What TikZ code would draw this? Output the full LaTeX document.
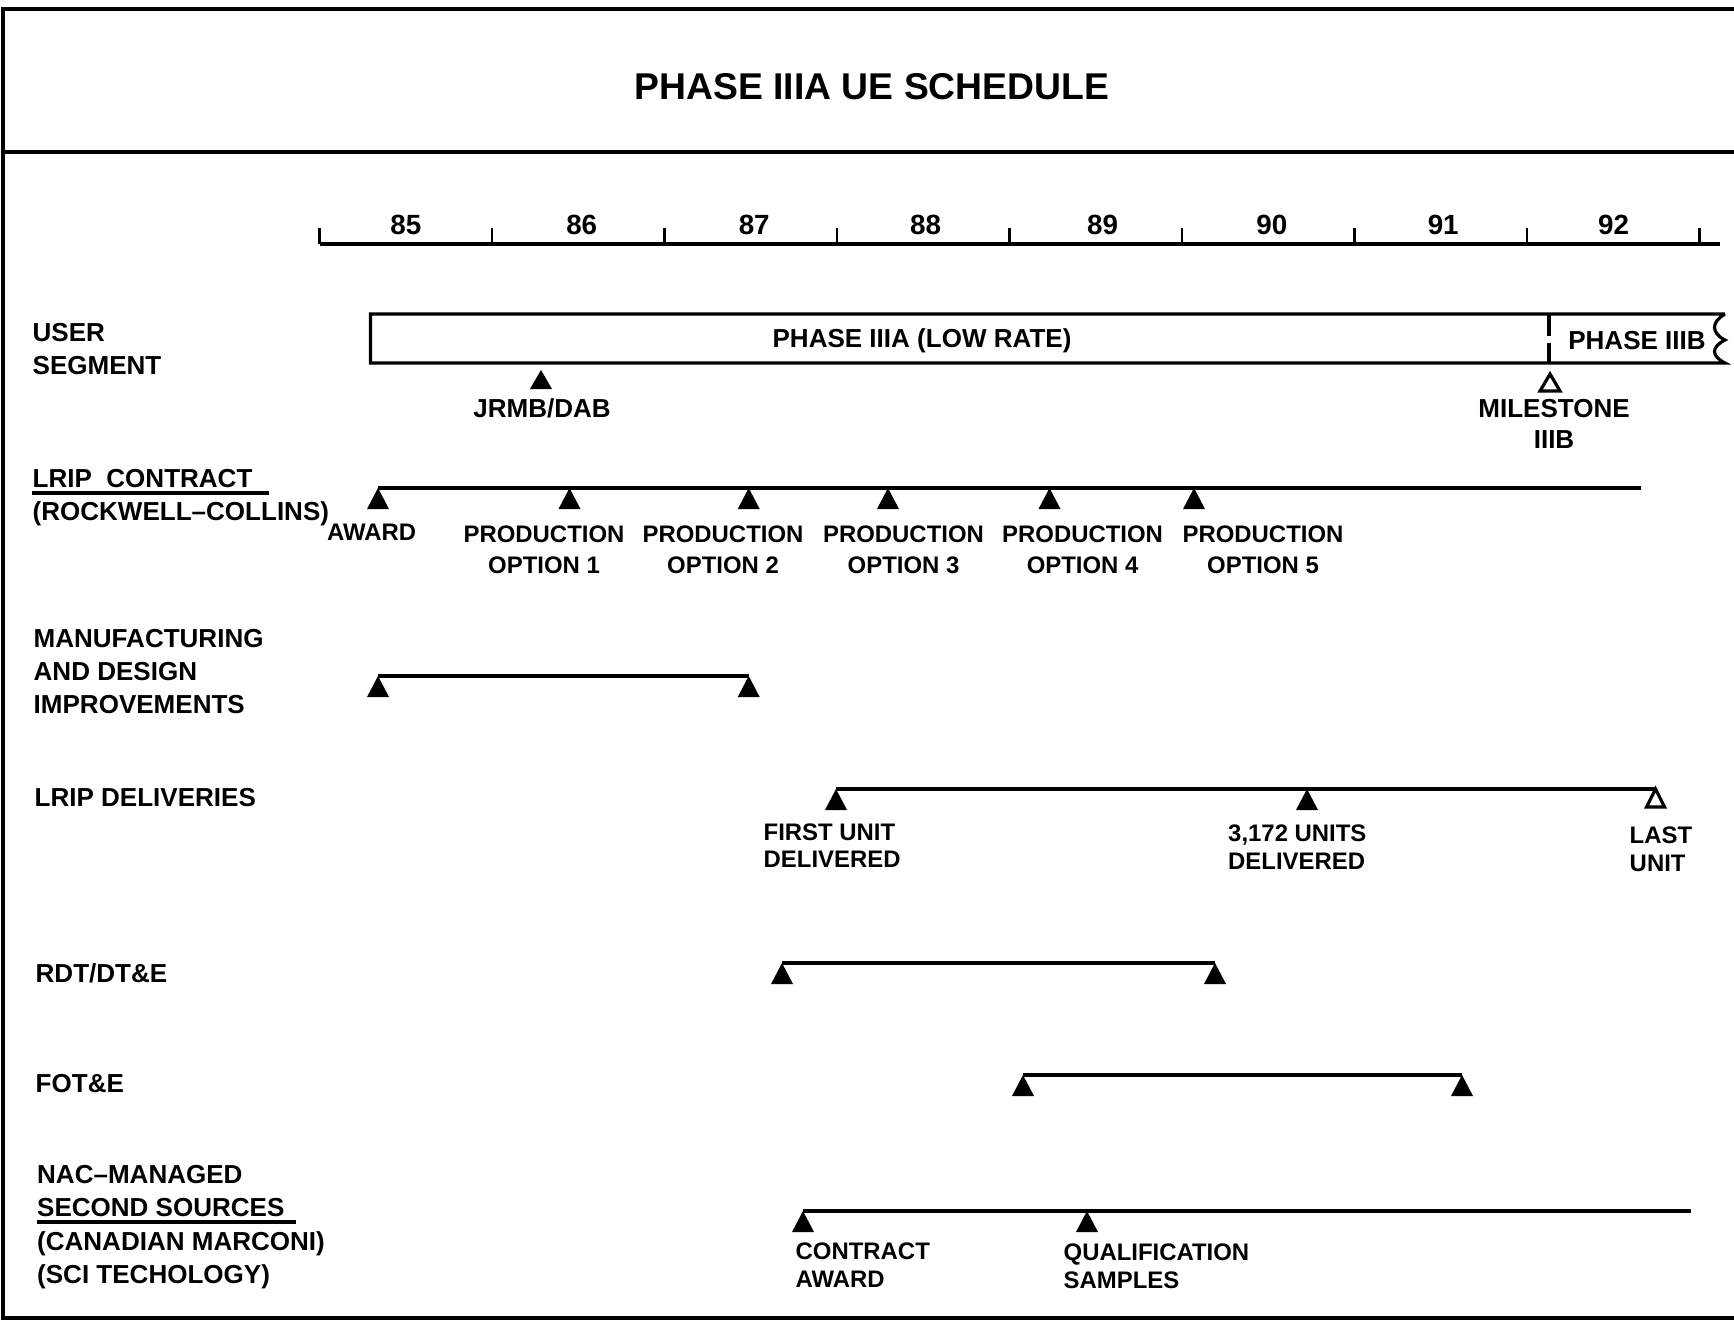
\documentclass[tikz,border=0pt]{standalone}
\usepackage{fontspec}
\setmainfont{Liberation Sans}

\begin{document}
\begin{tikzpicture}[x=0.01cm, y=-0.01cm,
    lbl/.style={font=\fontsize{7.4}{9.4}\selectfont\bfseries, inner sep=0pt, align=left, anchor=north west},
    evt/.style={font=\fontsize{6.8}{7.8}\selectfont\bfseries, inner sep=0pt, align=center, anchor=north},
    yr/.style={font=\fontsize{7.9}{9}\selectfont\bfseries, inner sep=0pt},
    bar/.style={line width=1pt},
    opentri/.style={draw, line width=0.9pt, fill=white}]
    \useasboundingbox (0,0) rectangle (1734,1324);
    \draw[line width=0.9pt] (1734,9) -- (3,9) -- (3,1318) -- (1734,1318);
    \draw[line width=1pt] (3,152) -- (1734,152);
    \node[font=\fontsize{10.6}{12}\selectfont\bfseries, inner sep=0pt] (title) at (872,87) {PHASE IIIA UE SCHEDULE};

    \draw[line width=1.1pt] (319.6,244) -- (1720,244);
    \foreach \i in {0,...,8} \draw[line width=0.7pt] ({319.6+172.5*\i},244) -- ++(0,-16);
    \foreach \yr/\x in {85/405.9,86/581.7,87/754.2,88/925.6,89/1102.6,90/1271.8,91/1443.2,92/1613.5}
        \node[yr] (y\yr) at (\x,224.5) {\yr};

    \node[lbl] (user) at (32,322.6) {USER\\SEGMENT};
    \node[lbl] (lrip) at (32,468.6) {LRIP\ \ CONTRACT\\(ROCKWELL--COLLINS)};
    \draw[line width=0.9pt] (32,493) -- (269,493);
    \node[lbl] (mfg) at (33,628.6) {MANUFACTURING\\AND DESIGN\\IMPROVEMENTS};
    \node[lbl] (deliv) at (34,788) {LRIP DELIVERIES};
    \node[lbl] (rdt) at (35,962.6) {RDT/DT\&E};
    \node[lbl] (fot) at (35,1073.3) {FOT\&E};
    \node[lbl] (nac) at (36.5,1165) {NAC--MANAGED\\SECOND SOURCES\\(CANADIAN MARCONI)\\(SCI TECHOLOGY)};
    \draw[line width=0.9pt] (36.5,1222) -- (296,1222);

    \draw[line width=0.9pt] (1725,314) -- (370.5,314) -- (370.5,363) -- (1725,363)
        .. controls (1711,356) and (1711,347) .. (1725,340)
        .. controls (1711,333) and (1711,322) .. (1725,314);
    \draw[line width=0.9pt] (1549,314) -- (1549,336) (1549,343) -- (1549,363);
    \node[lbl, anchor=center] (p3a) at (922,341) {PHASE IIIA (LOW RATE)};
    \node[lbl, anchor=center] (p3b) at (1637,341) {PHASE IIIB};

    \coordinate (jrmb) at (541,370);
    \fill (jrmb) -- ++(-11,19) -- ++(22,0) -- cycle;
    \node[lbl, anchor=north, align=center] (jrmbl) at (542,397.6) {JRMB/DAB};
    \coordinate (ms) at (1550,374);
    \draw[opentri] (ms) -- ++(-10,17) -- ++(20,0) -- cycle;
    \node[lbl, anchor=north, align=center, font=\fontsize{7.4}{8.8}\selectfont\bfseries] (msl) at (1554,398.6) {MILESTONE\\IIIB};

    \foreach \n/\x in {0/378,1/569.5,2/748.7,3/888,4/1049.5,5/1194}
        \coordinate (lc\n) at (\x,488);
    \coordinate (lcend) at (1641,488);
    \coordinate (md1) at (378,676);
    \coordinate (md2) at (748.7,676);
    \coordinate (dl1) at (836,789);
    \coordinate (dl2) at (1307,789);
    \coordinate (dl3) at (1655.5,789);
    \coordinate (rd1) at (782,963);
    \coordinate (rd2) at (1215,963);
    \coordinate (ft1) at (1023,1075);
    \coordinate (ft2) at (1462,1075);
    \coordinate (nc1) at (803,1211);
    \coordinate (nc2) at (1087,1211);
    \coordinate (ncend) at (1691,1211);

    \draw[bar] (lc0) -- (lcend);
    \draw[bar] (md1) -- (md2);
    \draw[bar] (dl1) -- (dl3);
    \draw[bar] (rd1) -- (rd2);
    \draw[bar] (ft1) -- (ft2);
    \draw[bar] (nc1) -- (ncend);
    \foreach \c in {lc0,lc1,lc2,lc3,lc4,lc5,md1,md2,dl1,dl2,rd1,rd2,ft1,ft2,nc1,nc2}
        \fill (\c) -- ++(-11,21) -- ++(22,0) -- cycle;
    \draw[opentri] (dl3) -- ++(-9,18) -- ++(18,0) -- cycle;

    \node[evt] (award) at (371.6,523.5) {AWARD};
    \foreach \n/\x in {1/544,2/723,3/903.5,4/1082.6,5/1263}
        \node[evt, font=\fontsize{6.8}{8.8}\selectfont\bfseries] (opt\n) at (\x,525.5) {PRODUCTION\\OPTION \n};
    \node[evt, anchor=north west, align=left] (first) at (763,823) {FIRST UNIT\\DELIVERED};
    \node[evt, anchor=north west, align=left] (units) at (1227.5,824.5) {3,172 UNITS\\DELIVERED};
    \node[evt, anchor=north west, align=left] (last) at (1629,826.5) {LAST\\UNIT};
    \node[evt, anchor=north west, align=left] (caward) at (795,1242.5) {CONTRACT\\AWARD};
    \node[evt, anchor=north west, align=left] (qual) at (1063,1243.5) {QUALIFICATION\\SAMPLES};
\end{tikzpicture}
\end{document}
